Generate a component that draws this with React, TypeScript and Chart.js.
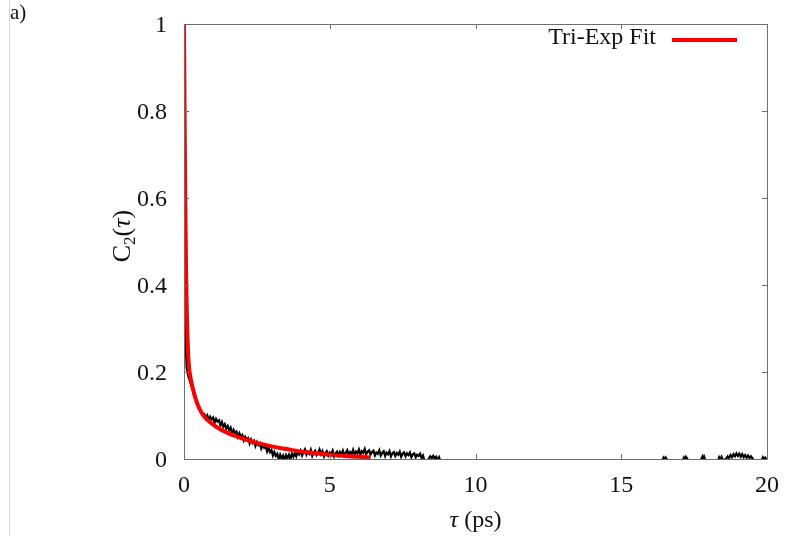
import React, { useEffect, useRef } from "react";
import { Chart, registerables } from "chart.js";

Chart.register(...registerables);

const xTicks = [0, 5, 10, 15, 20];
const xTickLabels = ["0", "5", "10", "15", "20"];
const yTicks = [0, 0.2, 0.4, 0.6, 0.8, 1];
const yTickLabels = ["0", "0.2", "0.4", "0.6", "0.8", "1"];

const legendLabel = "Tri-Exp Fit";

// Tri-exponential fit (red)
const fitTau = [0, 0.01, 0.02, 0.03, 0.04, 0.05, 0.06, 0.07, 0.08, 0.09, 0.1, 0.12, 0.14, 0.16, 0.18, 0.2, 0.25, 0.3, 0.4, 0.5, 0.6, 0.7, 0.8, 1.0, 1.2, 1.4, 1.7, 2.0, 2.5, 3.0, 3.5, 4.0, 4.5, 5.0, 5.5, 6.0, 6.4];
const fitC = [1, 0.9, 0.8, 0.71, 0.63, 0.56, 0.5, 0.44, 0.4, 0.36, 0.33, 0.28, 0.245, 0.222, 0.207, 0.197, 0.178, 0.163, 0.138, 0.12, 0.107, 0.097, 0.09, 0.079, 0.07, 0.063, 0.054, 0.047, 0.037, 0.029, 0.023, 0.017, 0.013, 0.0095, 0.007, 0.005, 0.0035];

// Measured C2(tau) (black), [tau, C2]
const measuredFast: [number, number][] = [
  [0, 1.0], [0.01, 0.8], [0.02, 0.63], [0.03, 0.5], [0.04, 0.4], [0.05, 0.33], [0.06, 0.28], [0.07, 0.25],
  [0.08, 0.23], [0.1, 0.21], [0.12, 0.2], [0.14, 0.192], [0.16, 0.188], [0.18, 0.185],
];
const measuredDecay: [number, number][] = [
  [0.2, 0.184], [0.25, 0.168], [0.3, 0.162], [0.35, 0.144], [0.4, 0.141], [0.45, 0.126], [0.5, 0.119], [0.55, 0.113],
  [0.6, 0.109], [0.65, 0.102], [0.7, 0.103], [0.75, 0.093], [0.8, 0.1], [0.85, 0.089], [0.9, 0.097], [0.95, 0.091],
  [1.0, 0.095], [1.05, 0.083], [1.1, 0.092], [1.15, 0.086], [1.2, 0.089], [1.25, 0.077], [1.3, 0.085], [1.35, 0.074],
  [1.4, 0.08], [1.45, 0.07], [1.5, 0.076], [1.55, 0.066], [1.6, 0.072], [1.65, 0.058], [1.7, 0.067], [1.75, 0.06],
  [1.8, 0.063], [1.85, 0.051], [1.9, 0.059], [1.95, 0.05], [2.0, 0.055], [2.05, 0.043], [2.1, 0.051], [2.15, 0.045],
  [2.2, 0.048], [2.25, 0.036], [2.3, 0.045], [2.35, 0.037], [2.4, 0.042], [2.45, 0.03], [2.5, 0.039], [2.55, 0.032],
  [2.6, 0.036], [2.65, 0.024], [2.7, 0.033], [2.75, 0.026], [2.8, 0.03], [2.85, 0.017], [2.9, 0.026], [2.95, 0.016],
  [3.0, 0.021], [3.05, 0.008], [3.1, 0.016], [3.15, 0.007], [3.2, 0.012], [3.25, -0.001], [3.3, 0.01], [3.35, 0.001],
  [3.4, 0.008], [3.45, -0.003], [3.5, 0.009], [3.55, 0.002], [3.6, 0.01], [3.65, 0.0], [3.7, 0.012], [3.75, 0.005],
  [3.8, 0.014], [3.85, 0.006], [3.9, 0.017], [3.95, 0.011],
];
const measuredPlateau: [number, number][] = [
  [4.0, 0.019], [4.05, 0.008], [4.1, 0.016], [4.15, 0.022], [4.2, 0.01], [4.25, 0.017], [4.3, 0.012], [4.35, 0.021],
  [4.4, 0.007], [4.45, 0.015], [4.5, 0.019], [4.55, 0.009], [4.6, 0.014], [4.65, 0.022], [4.7, 0.011], [4.75, 0.018],
  [4.8, 0.006], [4.85, 0.014], [4.9, 0.018], [4.95, 0.008], [5.0, 0.015], [5.05, 0.011], [5.1, 0.019], [5.15, 0.006],
  [5.2, 0.013], [5.25, 0.017], [5.3, 0.008], [5.35, 0.016], [5.4, 0.01], [5.45, 0.019], [5.5, 0.008], [5.55, 0.014],
  [5.6, 0.02], [5.65, 0.009], [5.7, 0.016], [5.75, 0.012], [5.8, 0.021], [5.85, 0.009], [5.9, 0.017], [5.95, 0.013],
  [6.0, 0.022], [6.05, 0.01], [6.1, 0.018], [6.15, 0.014], [6.2, 0.023], [6.25, 0.011], [6.3, 0.017], [6.35, 0.02],
  [6.4, 0.01], [6.45, 0.016], [6.5, 0.019], [6.55, 0.008], [6.6, 0.015], [6.65, 0.012], [6.7, 0.02], [6.75, 0.008],
  [6.8, 0.014], [6.85, 0.018], [6.9, 0.007], [6.95, 0.015], [7.0, 0.011], [7.05, 0.018], [7.1, 0.006], [7.15, 0.013],
  [7.2, 0.016], [7.25, 0.007], [7.3, 0.014], [7.35, 0.01], [7.4, 0.017], [7.45, 0.005], [7.5, 0.012], [7.55, 0.015],
  [7.6, 0.006], [7.65, 0.013], [7.7, 0.009], [7.75, 0.015], [7.8, 0.004], [7.85, 0.011], [7.9, 0.013], [7.95, 0.004],
  [8.0, 0.01], [8.05, 0.007], [8.1, 0.012], [8.15, 0.002], [8.2, 0.008], [8.25, -0.004], [8.3, -0.008], [8.35, -0.006],
  [8.4, 0.001], [8.45, 0.006], [8.5, 0.002], [8.55, 0.007], [8.6, 0.001], [8.65, 0.005], [8.7, -0.002], [8.75, 0.004],
  [8.8, -0.006], [8.9, -0.012],
];
const measuredTail: [number, number][] = [
  [9.5, -0.015], [10.5, -0.018], [11.5, -0.02], [12.5, -0.018], [13.5, -0.02], [14.5, -0.017], [15.5, -0.015],
  [16.4, -0.004], [16.45, 0.003], [16.48, -0.001], [16.52, 0.004], [16.56, 0.0], [16.62, -0.006],
  [17.1, -0.005], [17.15, 0.003], [17.18, -0.001], [17.22, 0.005], [17.26, 0.001], [17.32, -0.006],
  [17.72, -0.005], [17.76, 0.002], [17.79, 0.006], [17.82, -0.002], [17.85, 0.004], [17.9, -0.006],
  [18.32, -0.005], [18.36, 0.004], [18.4, -0.001], [18.44, 0.005], [18.5, -0.004],
  [18.6, 0.001], [18.65, 0.006], [18.7, 0.002], [18.75, 0.009], [18.8, 0.004], [18.85, 0.011], [18.9, 0.006],
  [18.95, 0.013], [19.0, 0.007], [19.05, 0.012], [19.1, 0.005], [19.15, 0.011], [19.2, 0.004], [19.25, 0.009],
  [19.3, 0.003], [19.35, 0.008], [19.4, 0.002], [19.45, 0.006], [19.55, -0.003],
  [19.82, -0.002], [19.86, 0.004], [19.9, 0.0], [19.94, 0.003], [20.0, -0.004],
];

const SERIF = '"Liberation Serif", "Times New Roman", "DejaVu Serif", serif';

const gnuplotPlugin = {
  id: "gnuplotFrame",
  afterDatasetsDraw(chart: any) {
    const { ctx, chartArea: a, scales } = chart;
    const xs = scales.x;
    const ys = scales.y;
    ctx.save();
    ctx.strokeStyle = "#6e6e6e";
    ctx.lineWidth = 1;
    ctx.beginPath();
    ctx.rect(a.left + 0.5, a.top + 0.5, a.right - a.left, a.bottom - a.top);
    ctx.stroke();
    const tl = 5;
    ctx.beginPath();
    xTicks.forEach((v) => {
      const px = Math.round(xs.getPixelForValue(v)) + 0.5;
      ctx.moveTo(px, a.bottom);
      ctx.lineTo(px, a.bottom - tl);
      ctx.moveTo(px, a.top);
      ctx.lineTo(px, a.top + tl);
    });
    yTicks.forEach((v) => {
      const py = Math.round(ys.getPixelForValue(v)) + 0.5;
      ctx.moveTo(a.left, py);
      ctx.lineTo(a.left + tl, py);
      ctx.moveTo(a.right, py);
      ctx.lineTo(a.right - tl, py);
    });
    ctx.stroke();

    // tick labels
    ctx.fillStyle = "#111";
    ctx.font = `24px ${SERIF}`;
    ctx.textBaseline = "alphabetic";
    ctx.textAlign = "center";
    xTicks.forEach((v, i) => {
      ctx.fillText(xTickLabels[i], xs.getPixelForValue(v), a.bottom + 33);
    });
    ctx.textAlign = "right";
    yTicks.forEach((v, i) => {
      ctx.fillText(yTickLabels[i], 167, ys.getPixelForValue(v) + 8);
    });

    // x title: tau (ps)
    const cx = (a.left + a.right) / 2;
    ctx.textAlign = "left";
    ctx.font = `italic 24px ${SERIF}`;
    const wTau = ctx.measureText("τ").width;
    ctx.font = `24px ${SERIF}`;
    const wRest = ctx.measureText(" (ps)").width;
    const sx = cx - (wTau + wRest) / 2;
    ctx.font = `italic 24px ${SERIF}`;
    ctx.fillText("τ", sx, 527);
    ctx.font = `24px ${SERIF}`;
    ctx.fillText(" (ps)", sx + wTau, 527);

    // y title: C2(tau)
    ctx.save();
    ctx.translate(121, 236);
    ctx.rotate(-Math.PI / 2);
    ctx.font = `26px ${SERIF}`;
    const wC = ctx.measureText("C").width;
    const wP1 = ctx.measureText("(").width;
    const wP2 = ctx.measureText(")").width;
    ctx.font = `17px ${SERIF}`;
    const w2 = ctx.measureText("2").width;
    ctx.font = `italic 26px ${SERIF}`;
    const wT = ctx.measureText("τ").width;
    const tot = wC + w2 + wP1 + wT + wP2;
    let x0 = -tot / 2;
    ctx.font = `26px ${SERIF}`;
    ctx.fillText("C", x0, 9);
    x0 += wC;
    ctx.font = `17px ${SERIF}`;
    ctx.fillText("2", x0, 14);
    x0 += w2;
    ctx.font = `26px ${SERIF}`;
    ctx.fillText("(", x0, 9);
    x0 += wP1;
    ctx.font = `italic 26px ${SERIF}`;
    ctx.fillText("τ", x0, 9);
    x0 += wT;
    ctx.font = `26px ${SERIF}`;
    ctx.fillText(")", x0, 9);
    ctx.restore();

    // legend
    ctx.textAlign = "right";
    ctx.font = `24px ${SERIF}`;
    ctx.fillText(legendLabel, 656, 44);
    ctx.strokeStyle = "#ff0000";
    ctx.lineWidth = 4;
    ctx.beginPath();
    ctx.moveTo(672, 40);
    ctx.lineTo(737, 40);
    ctx.stroke();

    // panel label
    ctx.textAlign = "left";
    ctx.font = `21px ${SERIF}`;
    ctx.fillText("a)", 10, 19);
    ctx.restore();
  },
};

export default function App() {
  const ref = useRef<HTMLCanvasElement | null>(null);
  useEffect(() => {
    if (!ref.current) return;
    const fitPoints = fitTau.map((t, i) => ({ x: t, y: fitC[i] }));
    const measured = [...measuredFast, ...measuredDecay, ...measuredPlateau, ...measuredTail].map(([t, c]) => ({ x: t, y: c }));
    const chart = new Chart(ref.current, {
      type: "line",
      data: {
        datasets: [
          {
            label: legendLabel,
            data: fitPoints,
            borderColor: "#ff0000",
            borderWidth: 4,
            pointRadius: 0,
            cubicInterpolationMode: "monotone",
            fill: false,
          },
          {
            label: "data",
            data: measured,
            borderColor: "#000000",
            borderWidth: 2.2,
            pointRadius: 0,
            tension: 0,
            fill: false,
          },
        ],
      },
      options: {
        animation: false,
        responsive: false,
        events: [],
        layout: { padding: { left: 184, top: 24, right: 21, bottom: 77 } },
        plugins: { legend: { display: false }, tooltip: { enabled: false } },
        scales: {
          x: { type: "linear", min: 0, max: 20, display: false },
          y: { type: "linear", min: 0, max: 1, display: false },
        },
      },
      plugins: [gnuplotPlugin],
    });
    return () => chart.destroy();
  }, []);
  return (
    <div style={{ position: "absolute", left: 0, top: 0, width: 788, height: 536, background: "#fff" }}>
      <div style={{ position: "absolute", left: 9, top: 0, width: 1, height: 536, background: "#d4d4d4" }} />
      <canvas ref={ref} width={788} height={536} style={{ position: "absolute", left: 0, top: 0 }} />
    </div>
  );
}
